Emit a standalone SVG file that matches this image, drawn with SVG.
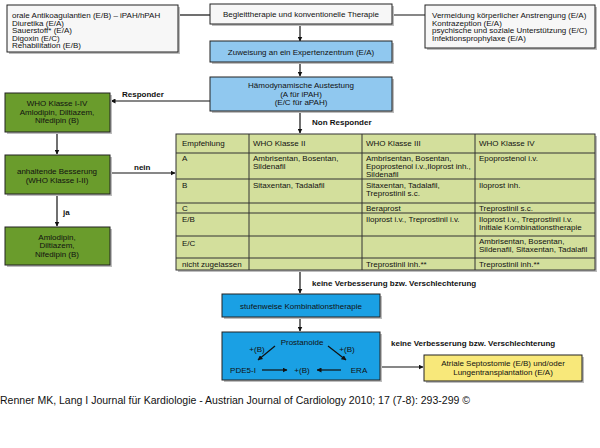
<svg xmlns="http://www.w3.org/2000/svg" width="600" height="448" viewBox="0 0 600 448">
<style>
text{font-family:"Liberation Sans",Arial,sans-serif;font-size:8px;fill:#111}
.c{text-anchor:middle}
.b{font-weight:bold}
.box{stroke:#222;stroke-width:1}
.sh{fill:#bdbdbd}
.w{fill:#f7f7f7}
.lb{fill:#90c8ef}
.g{fill:#6a9c2c}
.bl{fill:#1aa0e4}
.y{fill:#f8e87a}
.tb{fill:#d3df9c;stroke:#333;stroke-width:1}
.ln{stroke:#111;stroke-width:1.2;fill:none}
.tl{stroke:#333;stroke-width:1}
</style>
<defs>
<marker id="ah" viewBox="0 0 10 10" refX="9" refY="5" markerWidth="5" markerHeight="5" orient="auto" markerUnits="userSpaceOnUse">
<path d="M0,0 L10,5 L0,10 z" fill="#111"/>
</marker>
</defs>
<rect width="600" height="448" fill="#fff"/>

<g id="connectors">
<line class="ln" x1="178" y1="15" x2="210" y2="15"/>
<line class="ln" x1="392" y1="15" x2="425" y2="15"/>
<line class="ln" x1="300" y1="24" x2="300" y2="41" marker-end="url(#ah)"/>
<line class="ln" x1="300" y1="62" x2="300" y2="76" marker-end="url(#ah)"/>
<line class="ln" x1="300" y1="111" x2="300" y2="133" marker-end="url(#ah)"/>
<line class="ln" x1="210" y1="101" x2="111" y2="101" marker-end="url(#ah)"/>
<line class="ln" x1="57" y1="132" x2="57" y2="154" marker-end="url(#ah)"/>
<line class="ln" x1="57" y1="194" x2="57" y2="226" marker-end="url(#ah)"/>
<line class="ln" x1="110" y1="173" x2="175" y2="173" marker-end="url(#ah)"/>
<line class="ln" x1="300" y1="270" x2="300" y2="293" marker-end="url(#ah)"/>
<line class="ln" x1="300" y1="317" x2="300" y2="331" marker-end="url(#ah)"/>
<line class="ln" x1="380" y1="367" x2="423" y2="367" marker-end="url(#ah)"/>
<text class="b" x="122" y="97">Responder</text>
<text class="b" x="312" y="125">Non Responder</text>
<text class="b" x="134" y="170">nein</text>
<text class="b" x="63" y="215">ja</text>
<text class="b" x="312" y="286">keine Verbesserung bzw. Verschlechterung</text>
<text class="b" x="391" y="346">keine Verbesserung bzw. Verschlechterung</text>
</g>

<g id="begleit-left">
<rect class="sh" x="9" y="7" width="171" height="47"/>
<rect class="box w" x="7" y="5" width="171" height="47"/>
<text x="12" y="18">orale Antikoagulantien (E/B) – iPAH/hPAH</text>
<text x="12" y="25.5">Diuretika (E/A)</text>
<text x="12" y="33">Sauerstoff* (E/A)</text>
<text x="12" y="40.5">Digoxin (E/C)</text>
<text x="12" y="48">Rehabilitation (E/B)</text>
</g>

<g id="begleit">
<rect class="sh" x="212" y="6" width="182" height="20"/>
<rect class="box w" x="210" y="4" width="182" height="20"/>
<text class="c" x="301" y="17">Begleittherapie und konventionelle Therapie</text>
</g>

<g id="begleit-right">
<rect class="sh" x="427" y="7" width="170" height="43"/>
<rect class="box w" x="425" y="5" width="170" height="43"/>
<text x="432" y="18">Vermeidung körperlicher Anstrengung (E/A)</text>
<text x="432" y="25.5">Kontrazeption (E/A)</text>
<text x="432" y="33">psychische und soziale Unterstützung (E/C)</text>
<text x="432" y="40.5">Infektionsprophylaxe (E/A)</text>
</g>

<g id="zuweisung">
<rect class="sh" x="212" y="43" width="182" height="21"/>
<rect class="box lb" x="210" y="41" width="182" height="21"/>
<text class="c" x="301" y="54.5">Zuweisung an ein Expertenzentrum (E/A)</text>
</g>

<g id="haemo">
<rect class="sh" x="212" y="79" width="182" height="34"/>
<rect class="box lb" x="210" y="77" width="182" height="34"/>
<text class="c" x="301" y="88">Hämodynamische Austestung</text>
<text class="c" x="301" y="96.5">(A für iPAH)</text>
<text class="c" x="301" y="105">(E/C für aPAH)</text>
</g>

<g id="green1">
<rect class="sh" x="7" y="95" width="105" height="39"/>
<rect class="box g" x="5" y="93" width="105" height="39"/>
<text class="c" x="57" y="106">WHO Klasse I-IV</text>
<text class="c" x="57" y="114.5">Amlodipin, Diltiazem,</text>
<text class="c" x="57" y="123">Nifedipin (B)</text>
</g>

<g id="green2">
<rect class="sh" x="7" y="157" width="105" height="39"/>
<rect class="box g" x="5" y="155" width="105" height="39"/>
<text class="c" x="57" y="174">anhaltende Besserung</text>
<text class="c" x="57" y="182.5">(WHO Klasse I-II)</text>
</g>

<g id="green3">
<rect class="sh" x="7" y="229" width="105" height="38"/>
<rect class="box g" x="5" y="227" width="105" height="38"/>
<text class="c" x="57" y="239.5">Amlodipin,</text>
<text class="c" x="57" y="248">Diltiazem,</text>
<text class="c" x="57" y="256.5">Nifedipin (B)</text>
</g>

<g id="table">
<rect class="sh" x="178" y="136" width="419" height="136"/>
<rect class="tb" x="176" y="134" width="419" height="136"/>
<line class="tl" x1="249" y1="134" x2="249" y2="270"/>
<line class="tl" x1="362" y1="134" x2="362" y2="270"/>
<line class="tl" x1="475" y1="134" x2="475" y2="270"/>
<line class="tl" x1="176" y1="153" x2="595" y2="153"/>
<line class="tl" x1="176" y1="179" x2="595" y2="179"/>
<line class="tl" x1="176" y1="203" x2="595" y2="203"/>
<line class="tl" x1="176" y1="213" x2="595" y2="213"/>
<line class="tl" x1="176" y1="236" x2="595" y2="236"/>
<line class="tl" x1="176" y1="258" x2="595" y2="258"/>
<text x="182" y="146">Empfehlung</text>
<text x="253" y="146">WHO Klasse II</text>
<text x="366" y="146">WHO Klasse III</text>
<text x="479" y="146">WHO Klasse IV</text>
<text x="182" y="161">A</text>
<text x="253" y="161">Ambrisentan, Bosentan,</text>
<text x="253" y="169">Sildenafil</text>
<text x="366" y="161">Ambrisentan, Bosentan,</text>
<text x="366" y="169">Epoprostenol i.v.,Iloprost inh.,</text>
<text x="366" y="177">Sildenafil</text>
<text x="479" y="161">Epoprostenol i.v.</text>
<text x="182" y="188">B</text>
<text x="253" y="188">Sitaxentan, Tadalafil</text>
<text x="366" y="188">Sitaxentan, Tadalafil,</text>
<text x="366" y="196">Treprostinil s.c.</text>
<text x="479" y="188">Iloprost inh.</text>
<text x="182" y="211">C</text>
<text x="366" y="211">Beraprost</text>
<text x="479" y="211">Treprostinil s.c.</text>
<text x="182" y="222">E/B</text>
<text x="366" y="222">Iloprost i.v., Treprostinil i.v.</text>
<text x="479" y="222">Iloprost i.v., Treprostinil i.v.</text>
<text x="479" y="230">Initiale Kombinationstherapie</text>
<text x="182" y="246">E/C</text>
<text x="479" y="244">Ambrisentan, Bosentan,</text>
<text x="479" y="252">Sildenafil, Sitaxentan, Tadalafil</text>
<text x="182" y="267">nicht zugelassen</text>
<text x="366" y="267">Treprostinil inh.**</text>
<text x="479" y="267">Treprostinil inh.**</text>
</g>

<g id="stufen">
<rect class="sh" x="224" y="296" width="158" height="23"/>
<rect class="box bl" x="222" y="294" width="158" height="23"/>
<text class="c" x="301" y="308.5">stufenweise Kombinationstherapie</text>
</g>

<g id="kombi">
<rect class="sh" x="224" y="334" width="158" height="48"/>
<rect class="box bl" x="222" y="332" width="158" height="48"/>
<text class="c" x="302" y="345">Prostanoide</text>
<text class="c" x="257" y="352">+(B)</text>
<text class="c" x="347" y="352">+(B)</text>
<text class="c" x="243" y="373">PDE5-I</text>
<text class="c" x="302" y="373">+(B)</text>
<text class="c" x="359" y="373">ERA</text>
<line class="ln" x1="275" y1="346" x2="258" y2="360" marker-end="url(#ah)"/>
<line class="ln" x1="328" y1="346" x2="346" y2="360" marker-end="url(#ah)"/>
<line class="ln" x1="262" y1="370" x2="287" y2="370" marker-end="url(#ah)"/>
<line class="ln" x1="341" y1="370" x2="317" y2="370" marker-end="url(#ah)"/>
</g>

<g id="septostomie">
<rect class="sh" x="426" y="357" width="158" height="26"/>
<rect class="box y" x="424" y="355" width="158" height="26"/>
<text class="c" x="503" y="366">Atriale Septostomie (E/B) und/oder</text>
<text class="c" x="503" y="375">Lungentransplantation (E/A)</text>
</g>

<text x="0" y="404" style="font-size:11px" textLength="470" lengthAdjust="spacingAndGlyphs">Renner MK, Lang I Journal für Kardiologie - Austrian Journal of Cardiology 2010; 17 (7-8): 293-299 ©</text>
</svg>
